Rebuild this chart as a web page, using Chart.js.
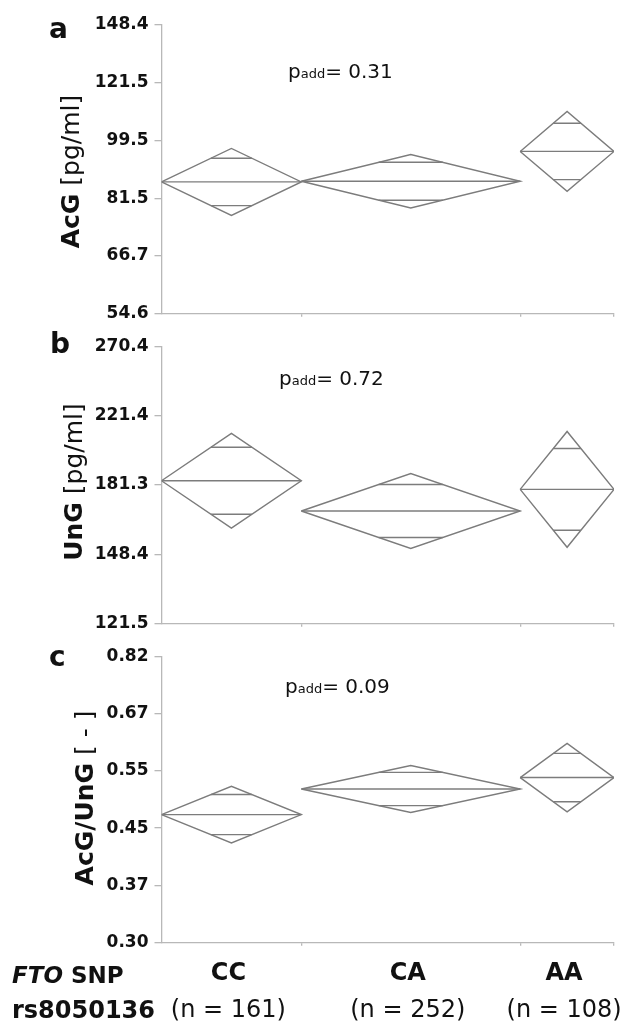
<!DOCTYPE html>
<html>
<head>
<meta charset="utf-8">
<script src="https://cdn.jsdelivr.net/npm/chart.js@4.4.1/dist/chart.umd.min.js"></script>
<style>
  body { margin: 0; background: #fff; }
  #wrap { position: relative; width: 621px; height: 1024px; }
  canvas { position: absolute; left: 0; }
</style>
</head>
<body>
<div id="wrap">
  <canvas id="chartA" width="621" height="330" style="top:0px"></canvas>
  <canvas id="chartB" width="621" height="310" style="top:330px"></canvas>
  <canvas id="chartC" width="621" height="384" style="top:640px"></canvas>
</div>
<script>
// groups and sample sizes (diamond width follows n)
const groups = ["CC", "CA", "AA"];
const groupN = [161, 252, 108];
const snpGene = "FTO";
const snpName = "rs8050136";

// group means and upper 95% CI (diamond is symmetric on the log axis)
const acgMean = [86.2, 86.4, 95.8];
const acgUpper = [96.8, 94.8, 110.0];
const ungMean = [183.5, 168.2, 179.0];
const ungUpper = [210.3, 187.4, 211.5];
const ratioMean = [0.471, 0.515, 0.536];
const ratioUpper = [0.520, 0.559, 0.604];

const pValues = ["0.31", "0.72", "0.09"];

// y ticks (log scaled axes)
const acgTicks = [54.598, 66.686, 81.451, 99.484, 121.510, 148.413];
const acgTickLabels = ["54.6", "66.7", "81.5", "99.5", "121.5", "148.4"];
const ungTicks = [121.510, 148.413, 181.272, 221.406, 270.426];
const ungTickLabels = ["121.5", "148.4", "181.3", "221.4", "270.4"];
const ratioTicks = [0.3012, 0.3679, 0.4493, 0.5488, 0.6703, 0.8187];
const ratioTickLabels = ["0.30", "0.37", "0.45", "0.55", "0.67", "0.82"];

const FONT = "'DejaVu Sans', sans-serif";
const AXIS = "#b8b8b8";
const LINE = "#7c7c7c";
const TEXT = "#111111";

const totalN = groupN.reduce((a, b) => a + b, 0);
const boundaries = [];
groupN.reduce((acc, n) => { acc += n; boundaries.push(acc); return acc; }, 0);

function seg(points) {
  return {
    data: points,
    showLine: true,
    borderColor: LINE,
    borderWidth: 1.4,
    pointRadius: 0,
    fill: false,
    tension: 0,
  };
}

function diamondSets(means, uppers) {
  const sets = [];
  const k = Math.SQRT1_2;
  let start = 0;
  groupN.forEach((n, i) => {
    const x0 = start, x1 = start + n, xc = start + n / 2;
    const m = means[i], up = uppers[i], lo = (m * m) / up;
    const upMark = m * Math.pow(up / m, k);
    const loMark = m * Math.pow(lo / m, k);
    const half = (n / 2) * (1 - k);
    sets.push(seg([{ x: x0, y: m }, { x: xc, y: up }, { x: x1, y: m }, { x: xc, y: lo }, { x: x0, y: m }]));
    sets.push(seg([{ x: x0, y: m }, { x: x1, y: m }]));
    sets.push(seg([{ x: xc - half, y: upMark }, { x: xc + half, y: upMark }]));
    sets.push(seg([{ x: xc - half, y: loMark }, { x: xc + half, y: loMark }]));
    start = x1;
  });
  return sets;
}

// letters, p values, rotated titles and the genotype labels
const panelText = {
  id: "panelText",
  afterDraw(chart, args, o) {
    const ctx = chart.ctx;
    ctx.save();
    ctx.fillStyle = TEXT;
    ctx.textBaseline = "alphabetic";
    ctx.textAlign = "left";

    ctx.font = "bold 28px " + FONT;
    ctx.fillText(o.letter, o.letterX, o.letterY);

    let x = o.pX;
    ctx.font = "20px " + FONT;
    ctx.fillText("p", x, o.pY);
    x += ctx.measureText("p").width;
    ctx.font = "13px " + FONT;
    ctx.fillText("add", x, o.pY);
    x += ctx.measureText("add").width;
    ctx.font = "20px " + FONT;
    ctx.fillText("= " + o.pValue, x, o.pY);

    ctx.save();
    ctx.translate(o.titleX, o.titleY);
    ctx.rotate(-Math.PI / 2);
    ctx.font = "bold 25px " + FONT;
    const wb = ctx.measureText(o.titleBold).width;
    ctx.font = "25px " + FONT;
    const wn = ctx.measureText(o.titleNormal).width;
    const tx = -(wb + wn) / 2;
    ctx.font = "bold 25px " + FONT;
    ctx.fillText(o.titleBold, tx, 0);
    ctx.font = "25px " + FONT;
    ctx.fillText(o.titleNormal, tx + wb, 0);
    ctx.restore();

    if (o.bottom) {
      const xs = chart.scales.x;
      let start = 0;
      ctx.textAlign = "center";
      groups.forEach((g, i) => {
        const xc = xs.getPixelForValue(start + groupN[i] / 2) - 3;
        ctx.font = "bold 24px " + FONT;
        ctx.fillText(g, xc, 340);
        ctx.font = "24px " + FONT;
        ctx.fillText("(n = " + groupN[i] + ")", xc, 377);
        start += groupN[i];
      });
      ctx.textAlign = "left";
      ctx.font = "italic bold 23px " + FONT;
      ctx.fillText(snpGene, 12, 343);
      const w = ctx.measureText(snpGene).width;
      ctx.font = "bold 23px " + FONT;
      ctx.fillText(" SNP", 12 + w, 343);
      ctx.font = "bold 24px " + FONT;
      ctx.fillText(snpName, 12, 378);
    }
    ctx.restore();
  },
};

function makeChart(id, means, uppers, ticks, labels, pad, text) {
  return new Chart(document.getElementById(id), {
    type: "scatter",
    data: { datasets: diamondSets(means, uppers) },
    options: {
      responsive: false,
      animation: false,
      events: [],
      layout: { padding: { left: 0, right: 7, top: pad[0], bottom: pad[1] } },
      plugins: {
        legend: { display: false },
        tooltip: { enabled: false },
        panelText: text,
      },
      scales: {
        x: {
          type: "linear",
          min: 0,
          max: totalN,
          bounds: "data",
          ticks: { display: false },
          grid: { display: true, drawOnChartArea: false, drawTicks: true, tickLength: 3, color: AXIS, lineWidth: 1.3 },
          border: { display: true, color: AXIS, width: 1.3 },
          afterBuildTicks: (s) => { s.ticks = boundaries.map((v) => ({ value: v })); },
          afterFit: (s) => { s.height = 0; },
        },
        y: {
          type: "logarithmic",
          min: ticks[0],
          max: ticks[ticks.length - 1],
          bounds: "data",
          ticks: {
            autoSkip: false,
            font: { family: FONT, weight: "bold", size: 17 },
            color: TEXT,
            padding: 6,
            callback: (v, i) => labels[i],
          },
          grid: { display: true, drawOnChartArea: false, drawTicks: true, tickLength: 7, color: AXIS, lineWidth: 1.3 },
          border: { display: true, color: AXIS, width: 1.3 },
          afterBuildTicks: (s) => { s.ticks = ticks.map((v) => ({ value: v })); },
          afterFit: (s) => { s.width = 161.5; },
        },
      },
    },
    plugins: [panelText],
  });
}

makeChart("chartA", acgMean, acgUpper, acgTicks, acgTickLabels, [25, 15], {
  letter: "a", letterX: 49, letterY: 38,
  pX: 288, pY: 78, pValue: pValues[0],
  titleX: 79, titleY: 171.5, titleBold: "AcG", titleNormal: " [pg/ml]",
});

makeChart("chartB", ungMean, ungUpper, ungTicks, ungTickLabels, [10.7, 12.3], {
  letter: "b", letterX: 50, letterY: 23,
  pX: 279, pY: 55, pValue: pValues[1],
  titleX: 81.7, titleY: 152, titleBold: "UnG", titleNormal: " [pg/ml]",
});

makeChart("chartC", ratioMean, ratioUpper, ratioTicks, ratioTickLabels, [15, 81.3], {
  letter: "c", letterX: 49, letterY: 26,
  pX: 285, pY: 53, pValue: pValues[2],
  titleX: 93, titleY: 158, titleBold: "AcG/UnG", titleNormal: " [ - ]",
  bottom: true,
});
</script>
</body>
</html>
